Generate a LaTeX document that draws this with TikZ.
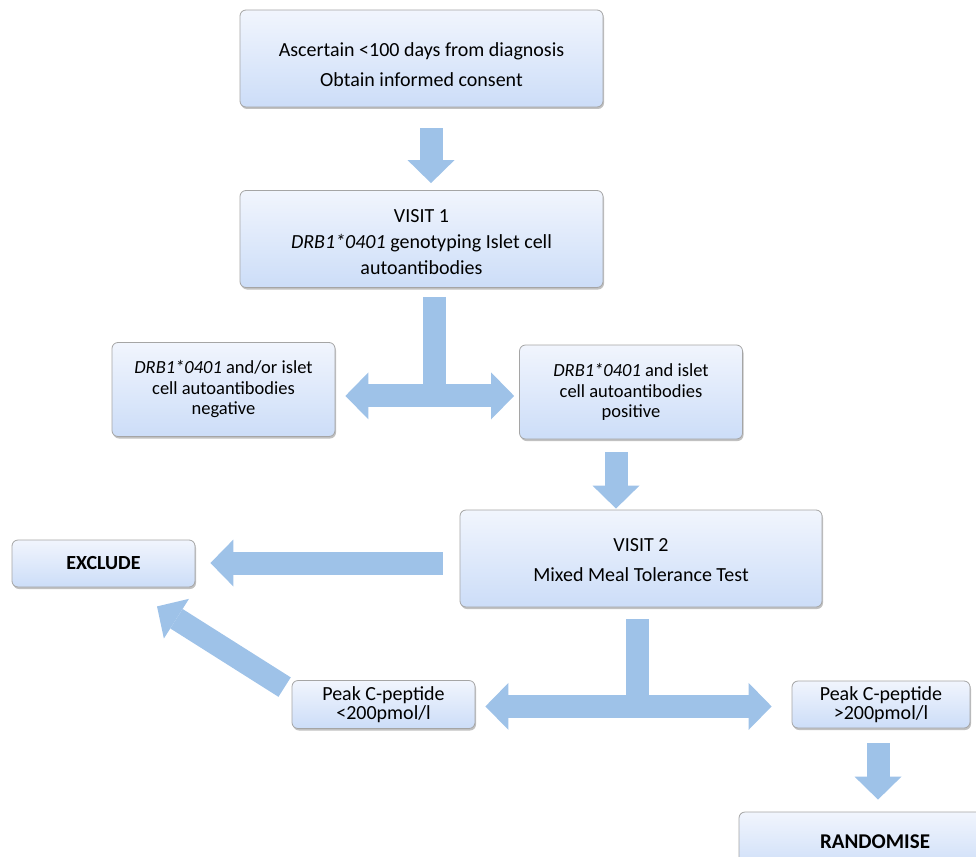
\documentclass[tikz,border=0pt]{standalone}
\usepackage{fontspec}
\setmainfont{Carlito}
\usetikzlibrary{arrows.meta, calc, shadows}
\definecolor{arrowblue}{RGB}{158,194,232}
\definecolor{boxtop}{RGB}{241,245,253}
\definecolor{boxbottom}{RGB}{204,221,248}
\definecolor{boxline}{RGB}{165,165,165}

\begin{document}
\begin{tikzpicture}[x=1pt, y=-1pt,
    box/.style={rectangle, rounded corners=6pt, draw=boxline, line width=0.8pt,
      top color=boxtop, bottom color=boxbottom, align=center, inner sep=0pt,
      drop shadow={shadow xshift=1pt, shadow yshift=-2pt, opacity=0.35, fill=black!70}},
    bigbox/.style={box, minimum width=363pt, minimum height=97pt, font=\fontsize{20}{30}\selectfont},
    midbox/.style={box, minimum width=223pt, minimum height=94pt, font=\fontsize{18.5}{20.5}\selectfont},
    smallbox/.style={box, minimum height=48pt, font=\fontsize{20}{19.5}\selectfont},
    bighead/.tip={Triangle[length=23pt, width=47pt, line width=0pt]},
    block/.style={draw=arrowblue, line width=23pt}]
  \useasboundingbox (0,0) rectangle (976,856);

  % boxes
  \node[bigbox] (b1) at (421.5,58.5) {\rule{0pt}{26pt}Ascertain <100 days from diagnosis\\Obtain informed consent};
  \node[bigbox, font=\fontsize{20}{26}\selectfont] (b2) at (421.5,239) {\rule{0pt}{20pt}VISIT 1\\\textit{DRB1*0401} genotyping Islet cell\\autoantibodies};
  \node[midbox] (neg) at (223.5,389.5) {\textit{DRB1*0401} and/or islet\\cell autoantibodies\\negative};
  \node[midbox] (pos) at (631,392) {\textit{DRB1*0401} and islet\\cell autoantibodies\\positive};
  \node[bigbox, minimum width=362pt] (v2) at (641,558.5) {\rule{0pt}{16pt}VISIT 2\\Mixed Meal Tolerance Test};
  \node[smallbox, minimum width=183pt, minimum height=47pt] (excl) at (103.5,563.5) {\textbf{EXCLUDE}};
  \node[smallbox, minimum width=183pt] (low) at (383.5,704.5) {Peak C-peptide\\<200pmol/l};
  \node[smallbox, minimum width=178pt, minimum height=47pt] (high) at (881,704.5) {Peak C-peptide\\>200pmol/l};
  \node[smallbox, minimum width=272pt, minimum height=60pt, font=\fontsize{21}{24}\selectfont] (rand) at (875,842) {\textbf{RANDOMISE}};

  % junctions of the split arrows
  \coordinate (j1) at ($(b2.south)+(12.5,108)$);
  \coordinate (j2) at ($(v2.south)+(-4,99)$);

  % arrows
  \draw[block, -bighead] ($(b1.south)+(9.5,21)$) -- ($(b2.north)+(9.5,-7)$);
  \draw[block] ($(b2.south)+(12.5,9)$) -- (j1);
  \draw[block, bighead-bighead] ($(j1 -| neg.east)+(10,0)$) -- ($(j1 -| pos.west)+(-5,0)$);
  \draw[block, -bighead] ($(pos.south)+(-15,13)$) -- ($(v2.north)+(-25,-1)$);
  \draw[block, -bighead] ($(v2.west)+(-17,4.5)$) -- ($(excl.east)+(15,-0.5)$);
  \draw[block, -bighead] ($(low.north west)+(-7,7)$) -- ($(excl.south)+(53.5,19)$);
  \draw[block] ($(v2.south)+(-4,12)$) -- (j2);
  \draw[block, bighead-bighead] ($(j2 -| low.east)+(10,0)$) -- ($(j2 -| high.west)+(-20,0)$);
  \draw[block, -bighead] ($(high.south)+(-3,15)$) -- ($(rand.north)+(3,-12)$);
\end{tikzpicture}
\end{document}
